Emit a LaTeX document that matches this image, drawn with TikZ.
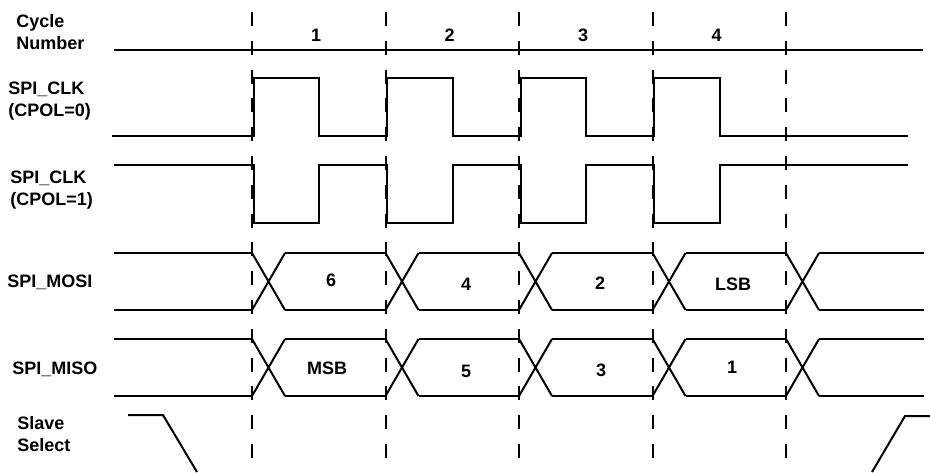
\documentclass[tikz,border=0pt]{standalone}
\usepackage{fontspec}
\setmainfont{Liberation Sans}
\usetikzlibrary{positioning}

\begin{document}
\begin{tikzpicture}[x=0.75pt, y=-0.75pt,
    sig/.style={line width=1.5pt, line join=miter},
    guide/.style={line width=1.5pt, dash pattern=on 10.5pt off 11.1pt},
    lbl/.style={font=\fontsize{13.5}{16.5}\selectfont\bfseries, align=left, anchor=north west, inner sep=0pt},
    val/.style={font=\fontsize{13.5}{16}\selectfont\bfseries, inner sep=0pt}]
    \useasboundingbox (0,0) rectangle (930,472);

    % Signal names
    \node[lbl] (lblcycle) at (16,14) {Cycle\\Number};
    \node[lbl] (lblclka) at (8,82) {SPI\_CLK\\(CPOL=0)};
    \node[lbl] (lblclkb) at (10,171) {SPI\_CLK\\(CPOL=1)};
    \node[lbl] (lblmosi) at (7,275) {SPI\_MOSI};
    \node[lbl] (lblmiso) at (12,362) {SPI\_MISO};
    \node[lbl] (lblss) at (17,416) {Slave\\Select};

    % Cycle boundaries
    \foreach \k in {0,...,4} {
        \draw[guide] (252+133.5*\k, 12) -- (252+133.5*\k, 472);
    }

    % Cycle numbers
    \draw[sig] (114,50) -- (923,50);
    \foreach \k/\n in {0/1, 1/2, 2/3, 3/4} {
        \node[val] (cyc\n) at (316+133.5*\k, 35) {\n};
    }

    % Clock, idle low
    \draw[sig] (112,136) \foreach \k in {0,...,3} {
        -- (253.5+133.5*\k,136) -- (253.5+133.5*\k,78) -- (319+133.5*\k,78) -- (319+133.5*\k,136)
    } -- (908,136);

    % Clock, idle high
    \draw[sig] (114,165) \foreach \k in {0,...,3} {
        -- (253.5+133.5*\k,165) -- (253.5+133.5*\k,223) -- (319+133.5*\k,223) -- (319+133.5*\k,165)
    } -- (908,165);

    % Data lines
    \foreach \yt/\yb in {253/310, 339/396} {
        \draw[sig] (114,\yt) -- (252,\yt) (114,\yb) -- (252,\yb);
        \foreach \k in {0,...,4} {
            \pgfmathsetmacro{\ta}{252+133.5*\k}
            \draw[sig] (\ta,\yt) -- (\ta+33,\yb) (\ta,\yb) -- (\ta+33,\yt);
            \ifnum\k<4
                \draw[sig] (\ta+33,\yt) -- (\ta+133.5,\yt) (\ta+33,\yb) -- (\ta+133.5,\yb);
            \fi
        }
        \draw[sig] (819,\yt) -- (924,\yt) (819,\yb) -- (924,\yb);
    }

    % Bit values
    \node[val] (mosi1) at (331,280) {6};
    \node[val] (mosi2) at (466,284) {4};
    \node[val] (mosi3) at (600,283) {2};
    \node[val] (mosi4) at (733,284) {LSB};
    \node[val] (miso1) at (327,368) {MSB};
    \node[val] (miso2) at (466,371) {5};
    \node[val] (miso3) at (601,370) {3};
    \node[val] (miso4) at (732,367) {1};

    % Slave select
    \draw[sig] (128,415) -- (163,415) -- (197,472);
    \draw[sig] (872,472) -- (905,416) -- (930,416);
\end{tikzpicture}
\end{document}
